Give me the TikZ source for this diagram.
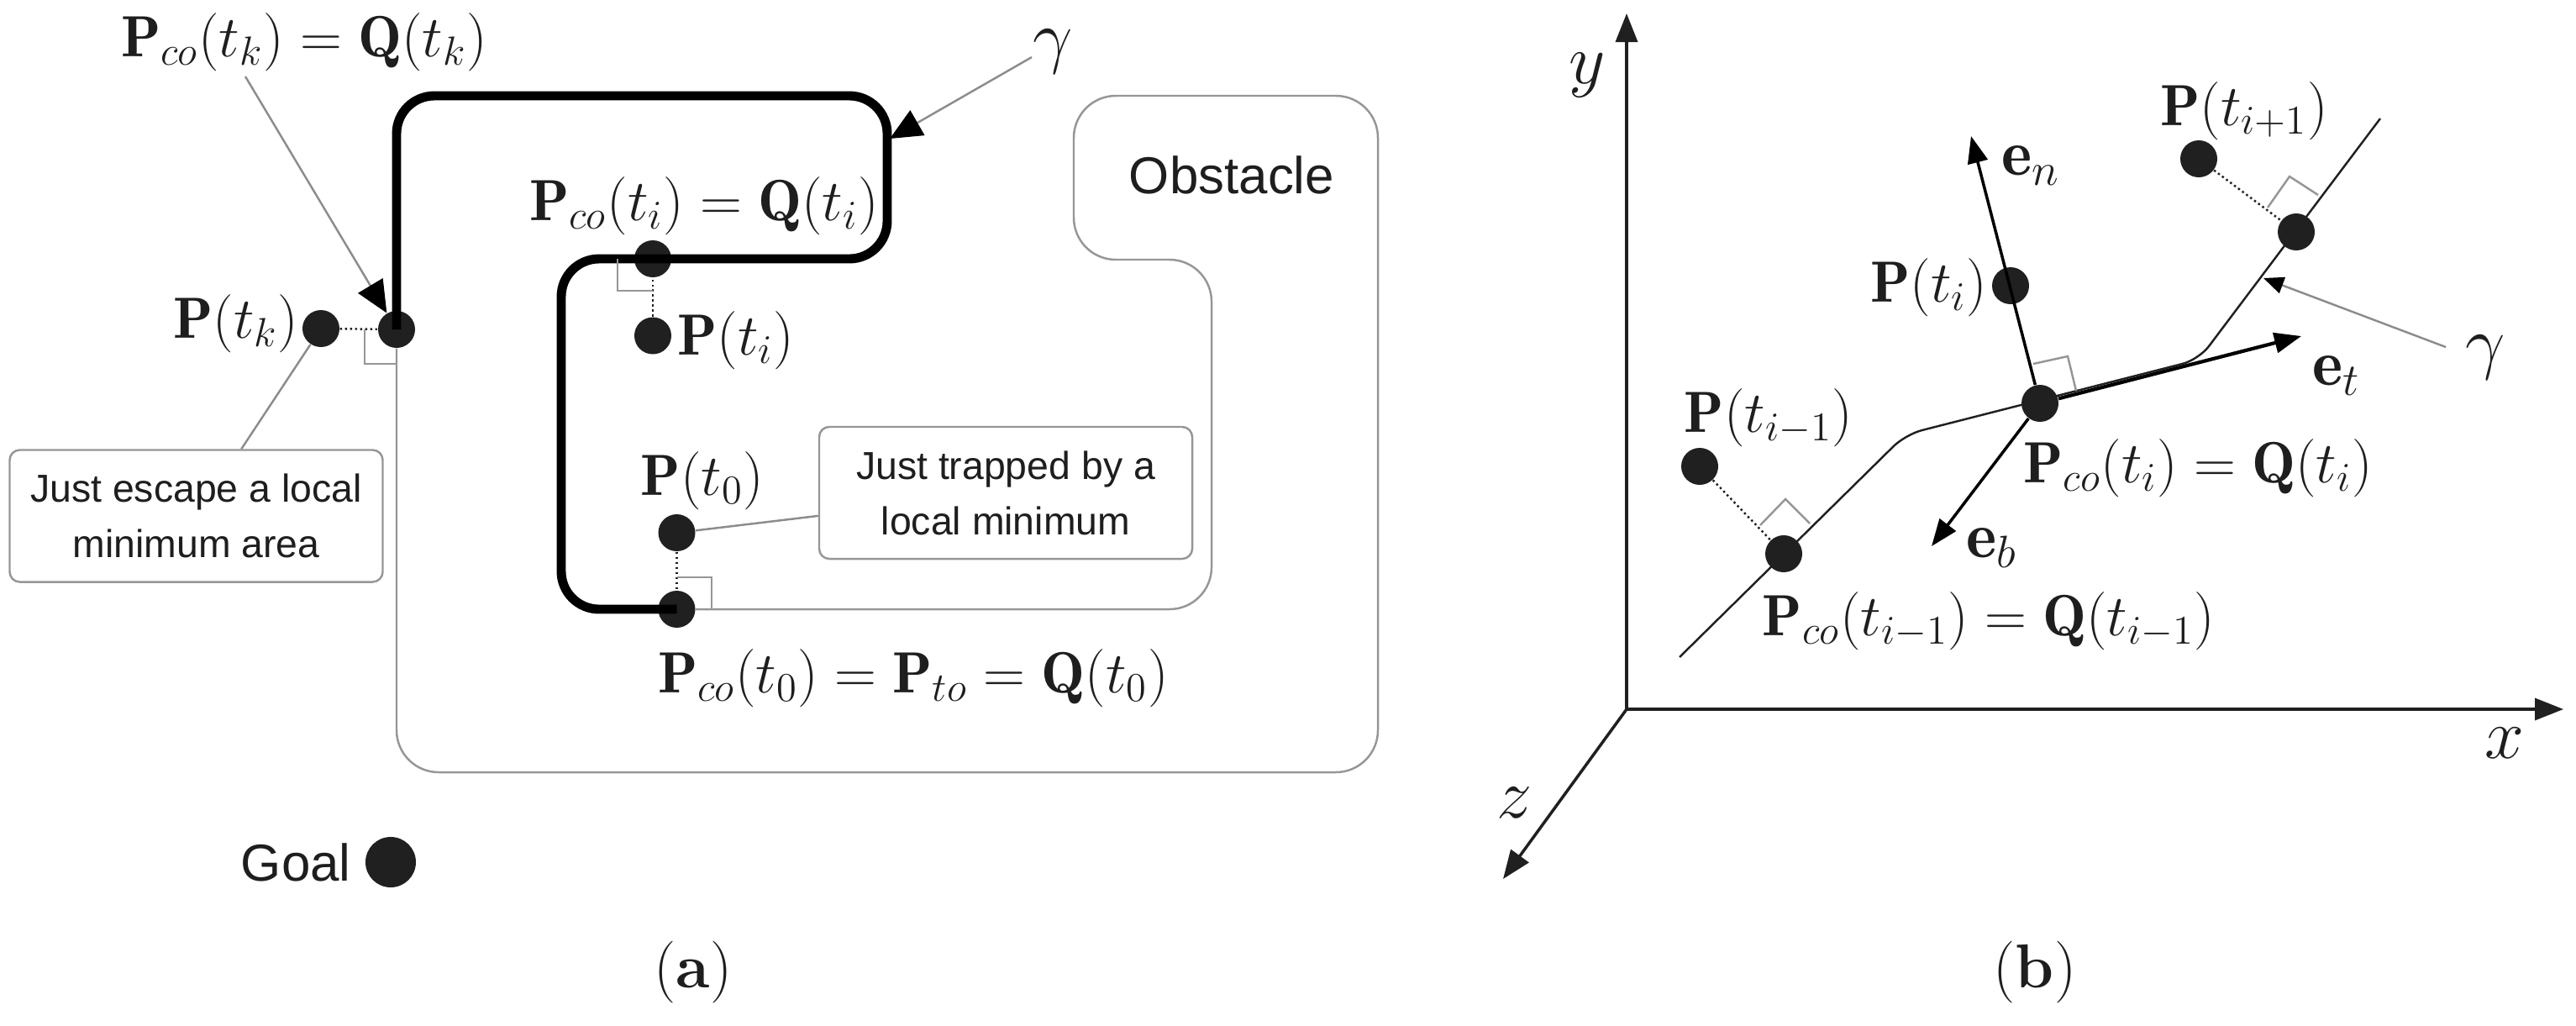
\documentclass[tikz,border=0pt]{standalone}
\usepackage{fix-cm}
\usepackage{amsmath}
\usepackage{fontspec}
\usepackage{xcolor}
\usetikzlibrary{arrows.meta, positioning}
\newfontfamily\arialfont{Liberation Sans}
\definecolor{dotblack}{RGB}{32, 32, 32}
\definecolor{leadergray}{RGB}{140, 140, 140}
\definecolor{boxgray}{RGB}{150, 150, 150}
\definecolor{textdark}{RGB}{30, 30, 30}
\newcommand{\bP}{\mathbf{P}}
\newcommand{\bQ}{\mathbf{Q}}
\newcommand{\be}{\mathbf{e}}

\begin{document}
\begin{tikzpicture}[
        dot/.style={circle, fill=dotblack, inner sep=0pt, minimum size=0.44cm},
        mlabel/.style={inner sep=0pt, text=textdark, font=\fontsize{19.7}{23}\selectfont},
        sans/.style={inner sep=0pt, text=textdark, font=\arialfont\fontsize{17.6}{21}\selectfont},
        notebox/.style={draw=boxgray, line width=0.7pt, rounded corners=0.12cm, minimum width=4.44cm, minimum height=1.57cm, align=center, inner sep=0pt, text=textdark, font=\arialfont\fontsize{13.2}{18.8}\selectfont},
        leader/.style={leadergray, line width=0.7pt},
        bigtip/.style={-{Triangle[length=0.38cm, width=0.34cm, black]}},
        perpline/.style={dotblack, line width=0.7pt, densely dotted},
        corner/.style={boxgray, line width=0.7pt},
        axis/.style={dotblack, line width=1.0pt, -{Triangle[length=0.34cm, width=0.26cm]}},
        framevec/.style={black, line width=1.0pt, -{Triangle[length=0.32cm, width=0.24cm]}}
    ]
    \useasboundingbox (0,0) rectangle (30.66,-12.2);

    % Panel a: points
    \foreach \name/\x/\y in {pk/3.82/-3.91, qk/4.72/-3.92, qi/7.77/-3.08, pi/7.77/-3.995, po/8.055/-6.34, qo/8.055/-7.25} {
        \node[dot] (\name) at (\x, \y) {};
    }
    \node[dot, minimum size=0.6cm] (goal) at (4.65, -10.26) {};
    \node[sans, left=0.16cm of goal] (goaltext) {Goal};

    % Panel a: obstacle outline
    \draw[boxgray, line width=0.7pt, rounded corners=0.5cm]
        (qk) -- (4.72, -9.19) -- (16.40, -9.19) -- (16.40, -1.14) -- (12.78, -1.14)
        -- (12.78, -3.09) -- (14.42, -3.09) -- (14.42, -7.25) -- (qo);
    \node[sans] (obstacle) at (14.66, -2.08) {Obstacle};

    % Panel a: thick path
    \draw[black, line width=3.1pt, rounded corners=0.45cm]
        (qk.center) -- (4.72, -1.14) -- (10.56, -1.14) -- (10.56, -3.08) -- (6.68, -3.08)
        -- (6.68, -7.25) -- (qo.center);

    % Panel a: labels
    \node[mlabel] (lqk) at (3.62, -0.50) {$\bP_{co}(t_k) = \bQ(t_k)$};
    \node[mlabel] (lpk) at (2.81, -3.85) {$\bP(t_k)$};
    \node[mlabel] (lqi) at (8.38, -2.45) {$\bP_{co}(t_i) = \bQ(t_i)$};
    \node[mlabel] (lpi) at (8.76, -4.05) {$\bP(t_i)$};
    \node[mlabel] (lpo) at (8.36, -5.72) {$\bP(t_0)$};
    \node[mlabel] (lqo) at (10.87, -8.07) {$\bP_{co}(t_0) = \bP_{to} = \bQ(t_0)$};
    \node[mlabel, font=\fontsize{24}{28}\selectfont] (gammaa) at (12.53, -0.62) {$\gamma$};

    % Panel a: note boxes
    \node[notebox] (boxk) at (2.335, -6.14) {Just escape a local\\minimum area};
    \node[notebox] (boxo) at (11.97, -5.865) {Just trapped by a\\local minimum};
    \draw[leader] (pk) -- (boxk.56);
    \draw[leader] (po) -- (boxo.187);

    % Panel a: perpendiculars and right angles
    \draw[perpline] (pk) -- (qk);
    \draw[perpline] (pi) -- (qi);
    \draw[perpline] (po) -- (qo);
    \draw[corner] (4.34, -3.92) -- (4.34, -4.33) -- (4.72, -4.33);
    \draw[corner] (7.35, -3.08) -- (7.35, -3.46) -- (7.77, -3.46);
    \draw[corner] (8.055, -6.87) -- (8.47, -6.87) -- (8.47, -7.25);

    % Panel a: pointers
    \coordinate (startk) at (2.92, -0.91);
    \coordinate (starta) at (12.28, -0.68);
    \coordinate (tipa) at (10.59, -1.65);
    \draw[leader, bigtip] (startk) -- (qk);
    \draw[leader, bigtip] (starta) -- (tipa);

    % Panel b: axes
    \coordinate (origin) at (19.36, -8.44);
    \coordinate (xend) at (30.51, -8.44);
    \coordinate (yend) at (19.36, -0.16);
    \coordinate (zend) at (17.89, -10.46);
    \draw[axis] (origin) -- (xend);
    \draw[axis] (origin) -- (yend);
    \draw[axis] (origin) -- (zend);
    \node[mlabel, font=\fontsize{24}{28}\selectfont] (xlabel) at (29.81, -8.84) {$x$};
    \node[mlabel, font=\fontsize{24}{28}\selectfont] (ylabel) at (18.89, -0.90) {$y$};
    \node[mlabel, font=\fontsize{24}{28}\selectfont] (zlabel) at (18.03, -9.55) {$z$};

    % Panel b: curve
    \coordinate (cstart) at (19.99, -7.82);
    \coordinate (cend) at (28.33, -1.41);
    \draw[dotblack, line width=0.7pt, rounded corners=0.2cm]
        (cstart) -- (22.68, -5.17) -- (26.17, -4.28) -- (cend);

    % Panel b: points
    \foreach \name/\x/\y in {pa/20.23/-5.55, qa/21.23/-6.59, pb/23.93/-3.40, qb/24.28/-4.80, pc/26.17/-1.89, qc/27.33/-2.76} {
        \node[dot] (\name) at (\x, \y) {};
    }
    \draw[perpline] (pa) -- (qa);
    \draw[perpline] (pc) -- (qc);
    \draw[corner] (20.95, -6.25) -- (21.25, -5.94) -- (21.54, -6.23);
    \draw[corner] (26.99, -2.47) -- (27.25, -2.10) -- (27.59, -2.32);
    \draw[corner] (24.20, -4.33) -- (24.61, -4.24) -- (24.71, -4.65);

    % Panel b: local frame
    \coordinate (enend) at (23.46, -1.62);
    \coordinate (etend) at (27.39, -4.00);
    \coordinate (ebend) at (22.99, -6.50);
    \draw[framevec] (qb) -- (enend);
    \draw[framevec, line width=1.2pt] (qb) -- (etend);
    \draw[framevec] (qb) -- (ebend);
    \node[mlabel, font=\fontsize{22}{26}\selectfont] (len) at (24.17, -1.97) {$\be_n$};
    \node[mlabel, font=\fontsize{22}{26}\selectfont] (let) at (27.81, -4.47) {$\be_t$};
    \node[mlabel, font=\fontsize{22}{26}\selectfont] (leb) at (23.71, -6.52) {$\be_b$};

    % Panel b: labels
    \node[mlabel] (lpa) at (21.05, -4.97) {$\bP(t_{i-1})$};
    \node[mlabel] (lqa) at (23.67, -7.39) {$\bP_{co}(t_{i-1}) = \bQ(t_{i-1})$};
    \node[mlabel] (lpb) at (22.96, -3.42) {$\bP(t_i)$};
    \node[mlabel] (lqb) at (26.16, -5.57) {$\bP_{co}(t_i) = \bQ(t_i)$};
    \node[mlabel] (lpc) at (26.71, -1.32) {$\bP(t_{i+1})$};
    \node[mlabel, font=\fontsize{24}{28}\selectfont] (gammab) at (29.58, -4.26) {$\gamma$};

    % Panel b: pointer
    \coordinate (startb) at (29.11, -4.13);
    \coordinate (tipb) at (26.94, -3.31);
    \draw[leader, -{Triangle[length=0.24cm, width=0.2cm, black]}] (startb) -- (tipb);

    % Captions
    \node[mlabel, font=\fontsize{21}{25}\selectfont] (capa) at (8.25, -11.57) {(\textbf{a})};
    \node[mlabel, font=\fontsize{21}{25}\selectfont] (capb) at (24.22, -11.57) {(\textbf{b})};
\end{tikzpicture}
\end{document}
